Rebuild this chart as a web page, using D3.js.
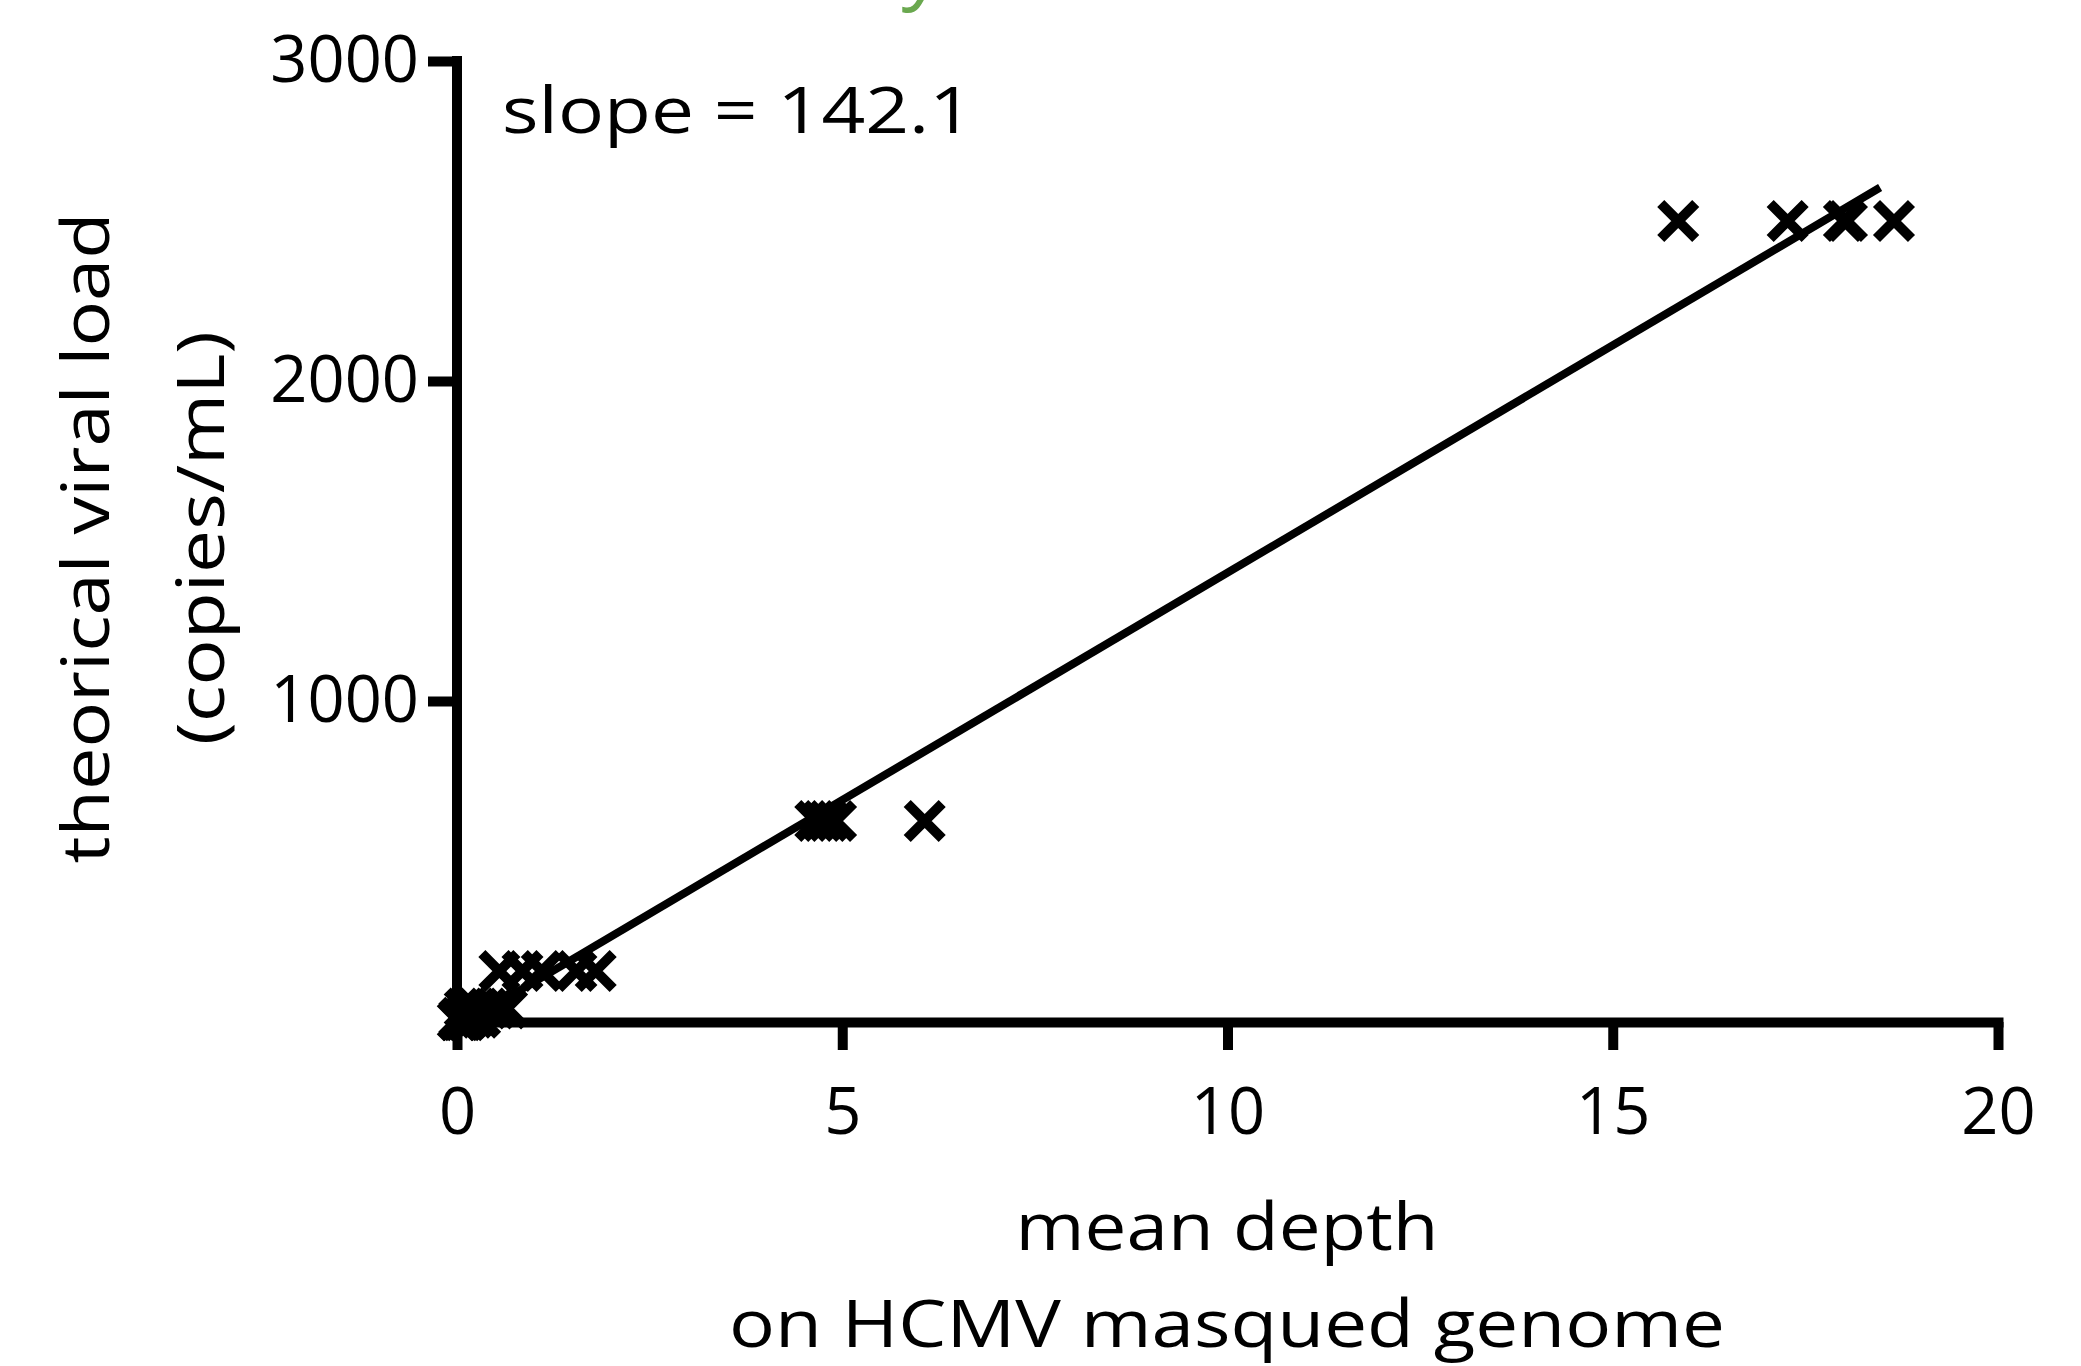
<!DOCTYPE html>
<html>
<head>
<meta charset="utf-8">
<script src="https://cdn.jsdelivr.net/npm/d3@7"></script>
<style>
  body { margin: 0; background: #fff; }
  text { font-family: "Open Sans", sans-serif; fill: #000; }
</style>
</head>
<body>
<svg id="chart" width="2081" height="1366"></svg>
<script>
// dilution levels (copies/mL) and mean depth of each replicate
var loadLevels = [2500, 625, 156, 39, 10, 2.4];
var depth2500 = [15.85, 17.27, 18.0, 18.04, 18.65];
var depth625 = [4.65, 4.74, 4.82, 4.92, 6.07];
var depth156 = [0.55, 0.85, 1.1, 1.55, 1.8];
var depth39 = [0.1, 0.25, 0.4, 0.5, 0.65];
var depth10 = [0.03, 0.08, 0.15, 0.22, 0.3];
var depth2 = [0.01, 0.02, 0.05, 0.08, 0.12];

var fitSlope = 142.1;
var fitIntercept = -20;
var fitRange = [0.15, 18.47];

var xTicks = [0, 5, 10, 15, 20];
var yTicks = [1000, 2000, 3000];

var depthLists = [depth2500, depth625, depth156, depth39, depth10, depth2];
var points = [];
depthLists.forEach((list, i) => {
  list.forEach(d => points.push({ depth: d, load: loadLevels[i] }));
});

var svg = d3.select("#chart");
svg.append("rect").attr("width", 2081).attr("height", 1366).attr("fill", "#fff");

var x = d3.scaleLinear().domain([0, 20]).range([457, 1998]);
var y = d3.scaleLinear().domain([0, 3000]).range([1021, 61]);

// cut-off green title fragment at the very top
svg.append("text")
  .attr("x", 910).attr("y", -6)
  .style("font-size", "80px")
  .style("font-style", "italic")
  .style("fill", "#6aa84f")
  .text("y");

// axes
var xAxis = svg.append("g")
  .attr("transform", `translate(0,${y(0) + 1})`)
  .call(d3.axisBottom(x).tickValues(xTicks).tickSize(28).tickSizeOuter(0).tickPadding(38)
    .tickFormat(d3.format("d")));

var yAxis = svg.append("g")
  .attr("transform", `translate(${x(0)},0)`)
  .call(d3.axisLeft(y).tickValues(yTicks).tickSize(29).tickSizeOuter(0).tickPadding(9)
    .tickFormat(d3.format("d")));

[xAxis, yAxis].forEach(g => {
  g.select(".domain").attr("stroke", "#000").attr("stroke-width", 10).attr("stroke-linecap", "square");
  g.selectAll(".tick line").attr("stroke", "#000").attr("stroke-width", 10);
  g.selectAll(".tick text")
    .attr("fill", "#000")
    .style("font-family", "'Open Sans', sans-serif")
    .style("font-size", "65px");
});
// y axis domain starts right at the 3000 tick
yAxis.select(".domain").attr("stroke-linecap", "butt").attr("d", `M0,${y(3000) - 5}V${y(0)}`);

// regression line
svg.append("line")
  .attr("x1", x(fitRange[0])).attr("y1", y(fitSlope * fitRange[0] + fitIntercept))
  .attr("x2", x(fitRange[1])).attr("y2", y(fitSlope * fitRange[1] + fitIntercept))
  .attr("stroke", "#000").attr("stroke-width", 8);

// X markers
var a = 17.5;
var marks = svg.append("g").selectAll("g")
  .data(points)
  .join("g")
  .attr("transform", d => `translate(${x(d.depth)},${y(d.load)})`);
marks.append("path")
  .attr("d", `M${-a},${-a}L${a},${a}M${-a},${a}L${a},${-a}`)
  .attr("stroke", "#000").attr("stroke-width", 10).attr("fill", "none");

// annotation
svg.append("text")
  .attr("x", 502).attr("y", 133)
  .style("font-size", "64px")
  .attr("textLength", 471).attr("lengthAdjust", "spacingAndGlyphs")
  .text("slope = 142.1");

// axis titles
svg.append("text")
  .attr("x", 1227).attr("y", 1250)
  .attr("text-anchor", "middle")
  .style("font-size", "66px")
  .attr("textLength", 423).attr("lengthAdjust", "spacingAndGlyphs")
  .text("mean depth");
svg.append("text")
  .attr("x", 1227).attr("y", 1347)
  .attr("text-anchor", "middle")
  .style("font-size", "66px")
  .attr("textLength", 996).attr("lengthAdjust", "spacingAndGlyphs")
  .text("on HCMV masqued genome");

svg.append("text")
  .attr("transform", "translate(109,538) rotate(-90)")
  .attr("text-anchor", "middle")
  .style("font-size", "66px")
  .attr("textLength", 651).attr("lengthAdjust", "spacingAndGlyphs")
  .text("theorical viral load");
svg.append("text")
  .attr("transform", "translate(224,538) rotate(-90)")
  .attr("text-anchor", "middle")
  .style("font-size", "66px")
  .attr("textLength", 414).attr("lengthAdjust", "spacingAndGlyphs")
  .text("(copies/mL)");
</script>
</body>
</html>
